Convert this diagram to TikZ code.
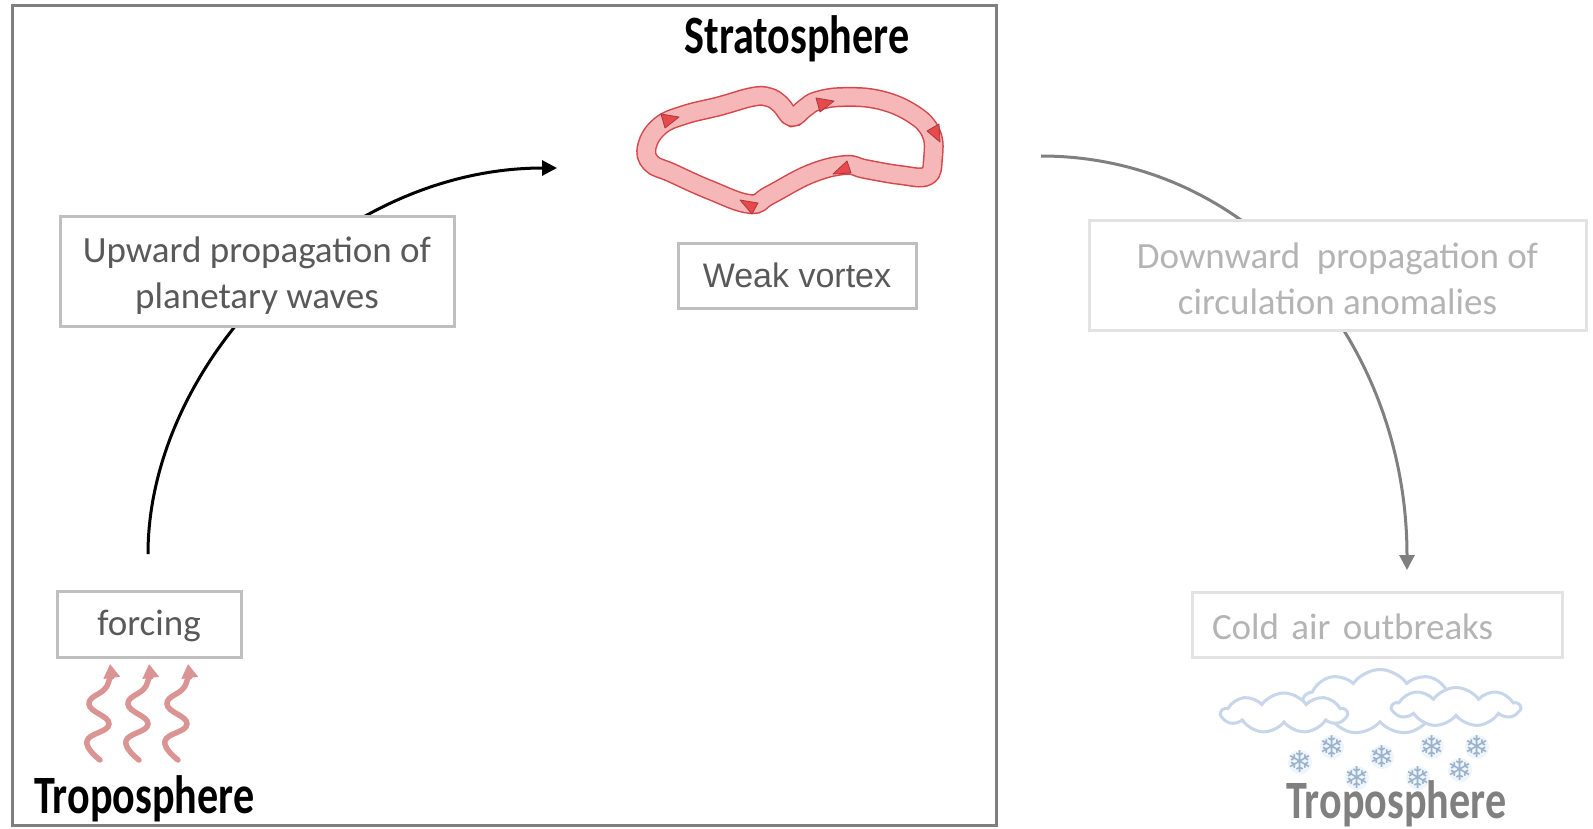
\documentclass[tikz,border=0pt]{standalone}
\usepackage{fontspec}
\setmainfont{Carlito}
\newfontfamily\headfont[FakeStretch=0.78]{Carlito}
\newfontfamily\arialfont{Liberation Sans}
\newfontfamily\symfont{DejaVu Sans}
\usetikzlibrary{arrows.meta,shapes.symbols}

\definecolor{framegray}{HTML}{7F7F7F}
\definecolor{boxgray}{HTML}{BFBFBF}
\definecolor{textgray}{HTML}{595959}
\definecolor{paleedge}{HTML}{E3E3E3}
\definecolor{paletext}{HTML}{B4B4B4}
\definecolor{arrowgray}{HTML}{808080}
\definecolor{vortexpink}{HTML}{F5B7B7}
\definecolor{vortexred}{HTML}{D5474B}
\definecolor{tipred}{HTML}{E8494C}
\definecolor{heatpink}{HTML}{DB9494}
\definecolor{cloudblue}{HTML}{C7D6EA}
\definecolor{snowblue}{HTML}{9BB2CC}
\definecolor{snowhalo}{HTML}{EEF5FB}

\begin{document}
\begin{tikzpicture}[x=1pt,y=-1pt,
  box/.style={draw=boxgray, line width=3pt, fill=white, text=textgray,
    font=\fontsize{37}{46}\selectfont, align=center, inner sep=0pt},
  palebox/.style={box, draw=paleedge, text=paletext},
  head/.style={font=\headfont\bfseries\fontsize{54}{54}\selectfont, inner sep=0pt},
  link/.style={line width=3pt, -{Triangle[length=15pt,width=15pt]}},
  heat/.style={draw=heatpink, line width=5.5pt, line cap=round,
    -{Triangle[length=14pt,width=16pt]}},
  puff/.style={cloud, cloud puffs=9, cloud puff arc=110, aspect=3, draw=cloudblue,
    line width=3pt, fill=white, inner sep=0pt},
  flake/.style={text=snowblue, font=\symfont\fontsize{30}{30}\selectfont, inner sep=0pt},
  swirl/.style={fill=tipred, draw=vortexred!80!black, line width=0.8pt, line join=round}
]

\useasboundingbox (0,0) rectangle (1593,828);
\fill[white] (0,0) rectangle (1593,828);

% frame around the stratosphere part
\draw[framegray, line width=3pt] (12,5) rectangle (996,825);

% connectors (drawn first so the label boxes cover them)
\coordinate (upstart) at (148,554);
\coordinate (uptip) at (557,168);
\coordinate (downstart) at (1041,156);
\coordinate (downtip) at (1407,570);
\draw[link, black] (upstart) .. controls (148,365) and (335,168) .. (uptip);
\draw[link, arrowgray] (downstart) .. controls (1250,156) and (1407,340) .. (downtip);

% boxes
\node[box, minimum width=394pt, minimum height=110pt] (up) at (257,271)
  {\rule{0pt}{34pt}Upward propagation of\\planetary waves};
\node[box, minimum width=238pt, minimum height=65pt,
  font=\arialfont\fontsize{34}{40}\selectfont] (weak) at (797,275.5) {Weak vortex};
\node[box, minimum width=184pt, minimum height=66pt, text height=30pt] (forcing)
  at (149,624) {forcing};
\node[palebox, minimum width=497pt, minimum height=110pt] (down) at (1337.5,275)
  {\rule{0pt}{34pt}Downward\hspace{0.45em}propagation of\\circulation anomalies};
\node[palebox, minimum width=370pt, minimum height=65pt, text width=330pt,
  inner xsep=20pt, align=left, text height=30pt] (cold) at (1377,624.5)
  {Cold air outbreaks};

% layer labels
\node[head, anchor=base] (strat) at (797,53) {Stratosphere};
\node[head, anchor=base west] (tropL) at (34,813) {Troposphere};

% weak polar vortex ribbon
\draw[vortexpink, line width=17pt, line join=round,
  preaction={draw=vortexred, line width=20pt}]
  plot[smooth cycle, tension=0.7] coordinates {
    (647,146) (660,126) (684,115) (720,106) (752,97) (768,97) (780,104)
    (792,117) (805,108) (817,101) (843,97) (880,100) (913,114) (931,133)
    (933,158) (927,176) (900,175) (865,169) (845,165) (810,174) (770,195)
    (750,204) (710,190) (672,173) (651,163)};
\fill[swirl] (661,114) -- (679,117) -- (665,128) -- cycle;
\fill[swirl] (816,98) -- (834,101) -- (820,112) -- cycle;
\fill[swirl] (927,131) -- (939,124) -- (940,142) -- cycle;
\fill[swirl] (833,174) -- (847,161) -- (851,173) -- cycle;
\fill[swirl] (740,200) -- (758,203) -- (752,214) -- cycle;

% heat forcing from below
\foreach \k in {0,1,2}{
  \begin{scope}[shift={(\k*39,0)}]
    \draw[heat] plot[smooth, tension=0.8] coordinates
      {(100,760) (87,741) (109,724) (89,704) (107,686) (110,664)};
  \end{scope}
}

% clouds and snow
\node[puff, minimum width=154pt, minimum height=65pt] (cloudM) at (1380,702) {};
\node[puff, minimum width=125pt, minimum height=40pt] (cloudL) at (1284,713) {};
\node[puff, minimum width=127pt, minimum height=39pt] (cloudR) at (1456,707) {};
\foreach \x/\y [count=\i] in {1300/762,1332/747,1357/778,1382/757,1418/778,1432/747,1460/770,1477/747}{
  \fill[snowhalo] (\x,\y) circle (12pt);
  \node[flake] (snow\i) at (\x,\y) {❄};
}

\node[head, anchor=base west, text=arrowgray] (tropR) at (1286,818) {Troposphere};

\end{tikzpicture}
\end{document}
